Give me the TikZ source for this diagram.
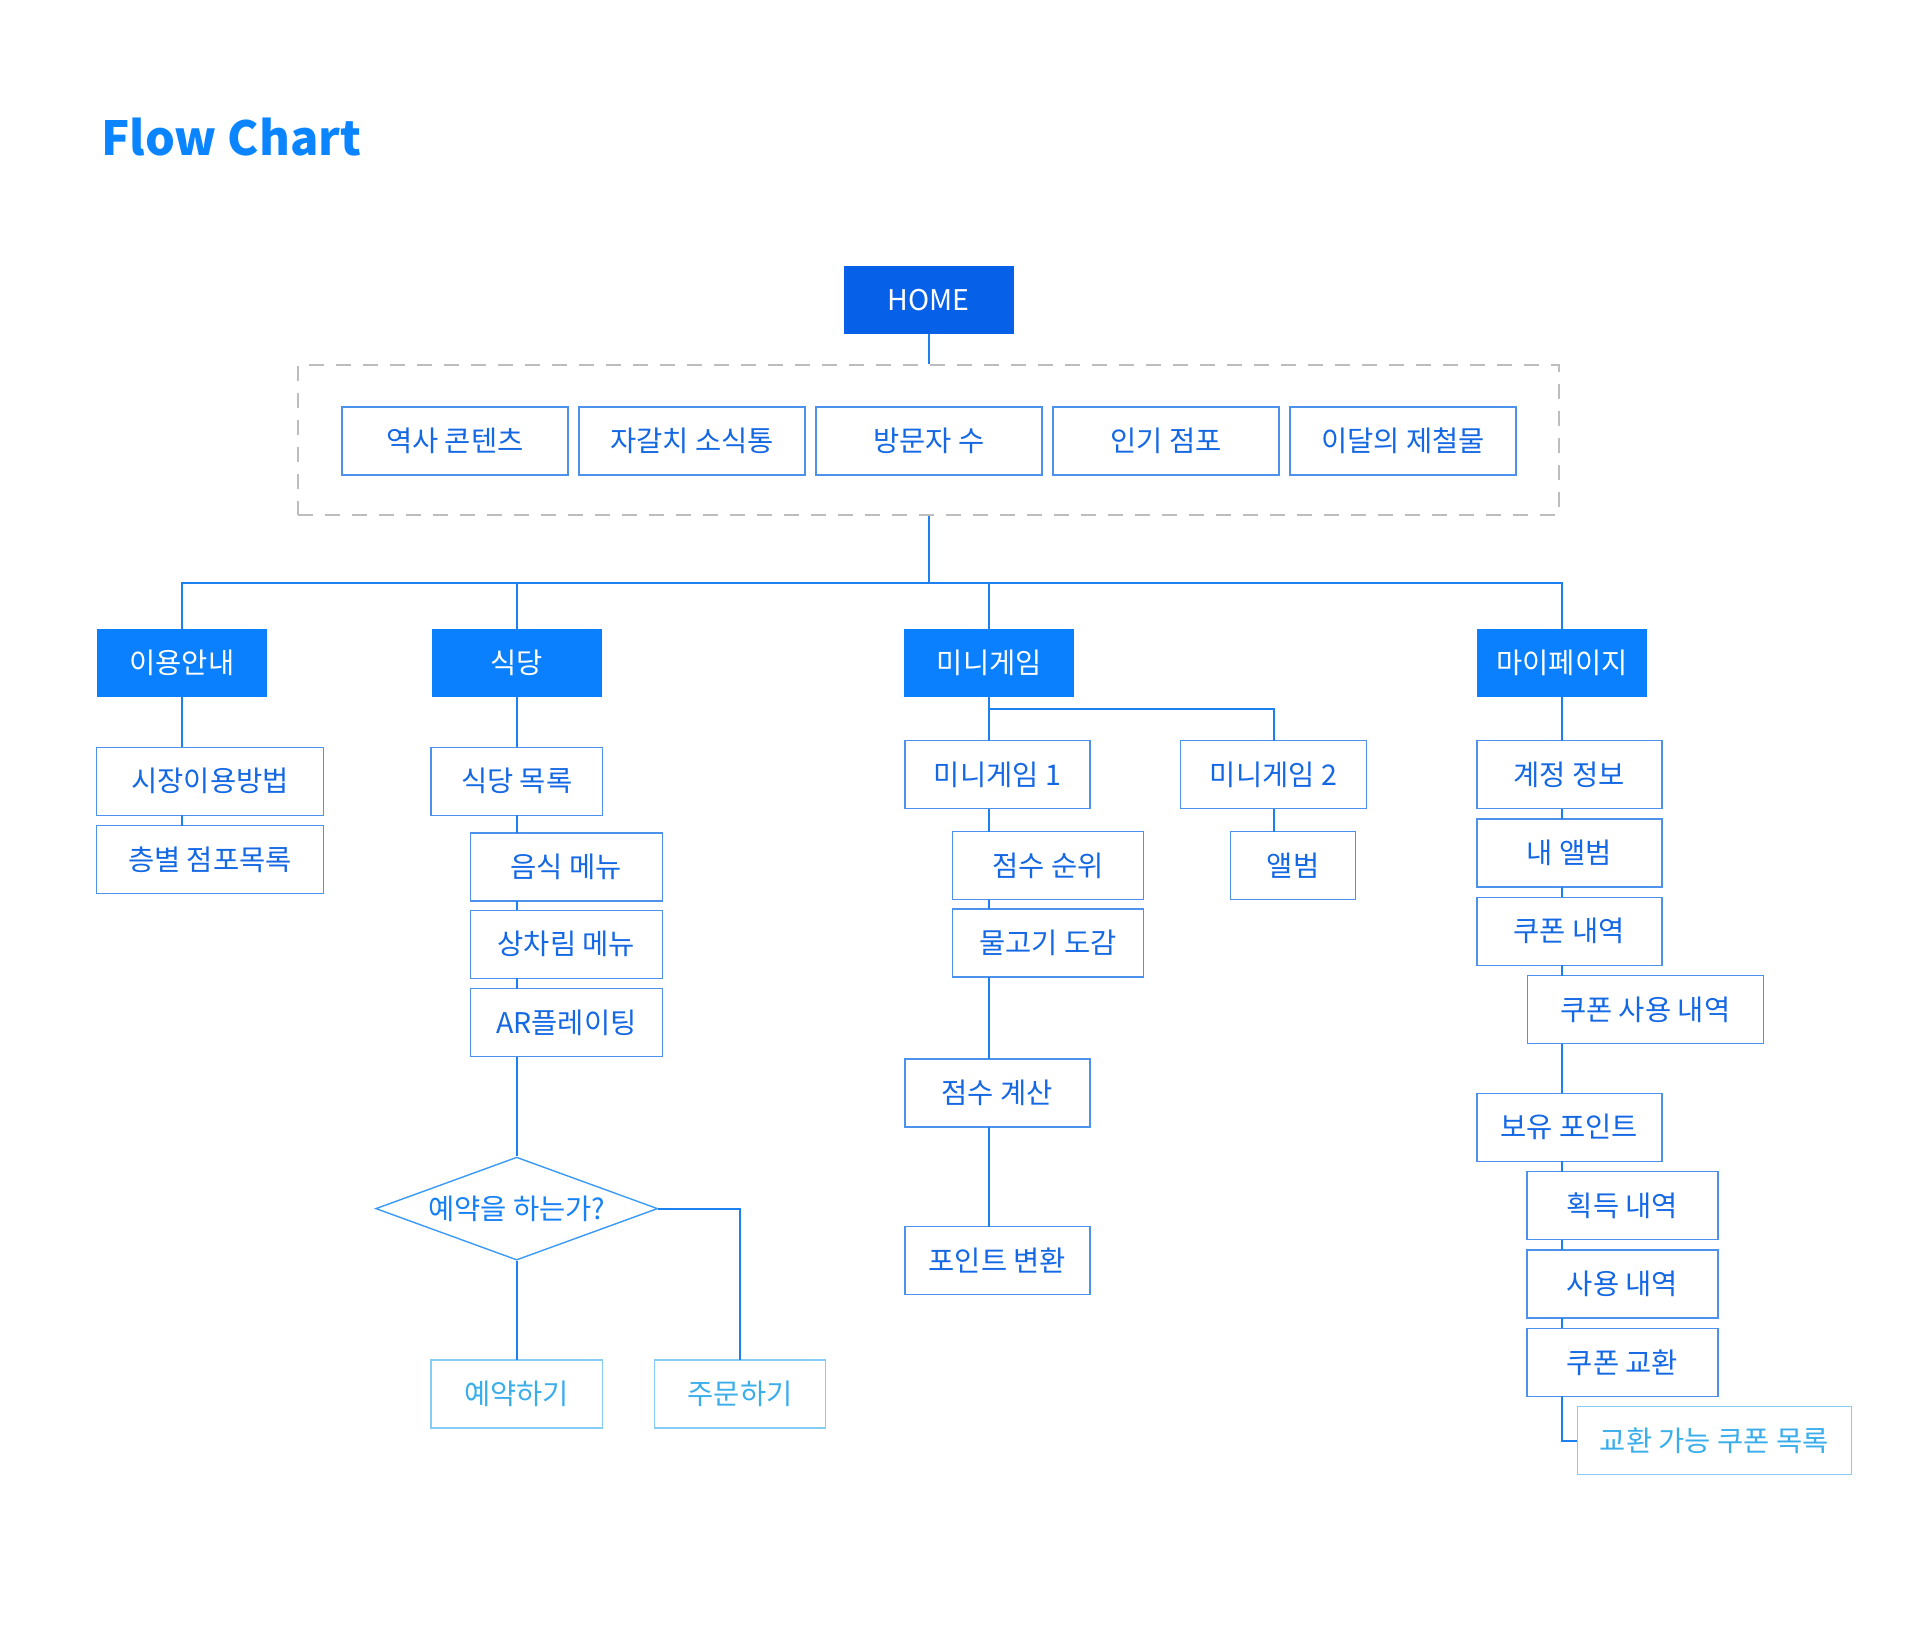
\documentclass[tikz,border=0pt]{standalone}
\usepackage{fontspec}
\setmainfont{Noto Sans CJK KR}
\usetikzlibrary{shapes.geometric,chains,positioning}
\definecolor{titleblue}{HTML}{0A84FF}
\definecolor{homeblue}{HTML}{0660E8}
\definecolor{catblue}{HTML}{0A80FF}
\definecolor{linkblue}{HTML}{1C80F0}
\definecolor{boxline}{HTML}{4C92EC}
\definecolor{boxtext}{HTML}{1468E4}
\definecolor{lightline}{HTML}{86CCF5}
\definecolor{lighttext}{HTML}{3AAEEB}
\definecolor{askline}{HTML}{3A9AF5}
\definecolor{asktext}{HTML}{1680F5}
\definecolor{dashgray}{HTML}{BDBDBD}

\begin{document}
\begin{tikzpicture}[x=1pt, y=-1pt, node distance=11pt, start chain,
    box/.style={rectangle, draw=boxline, fill=white, text=boxtext, line width=1.4pt, inner sep=0pt, outer sep=0pt, minimum height=68pt, font=\fontsize{28.5}{34}\selectfont},
    cat/.style={box, draw=none, fill=catblue, text=white, minimum width=170pt},
    home/.style={cat, fill=homeblue},
    faint/.style={box, draw=lightline, text=lighttext},
    ask/.style={diamond, aspect=2.74, draw=askline, fill=white, text=asktext, line width=1.4pt, inner sep=0pt, minimum width=282pt, minimum height=103pt, font=\fontsize{28.5}{34}\selectfont},
    group/.style={draw=dashgray, dash pattern=on 15pt off 12pt, line width=2pt, minimum width=1261pt, minimum height=150pt},
    link/.style={draw=linkblue, line width=2pt}]
        \useasboundingbox (0,0) rectangle (1920,1630);
        % Title
        \node[anchor=base west, text=titleblue, font=\fontsize{47}{56}\selectfont\bfseries] (title) at (98,155) {Flow Chart};
        % Nodes
        \node[home] (home) at (928.8,300) {HOME};
        \node[group] (group) at (928.2,440.2) {};
        \node[box,minimum width=226pt,on chain] (history) at (454.9,440.8) {역사 콘텐츠};
        \node[box,minimum width=226pt,on chain] (news) {자갈치 소식통};
        \node[box,minimum width=226pt,on chain] (visits) {방문자 수};
        \node[box,minimum width=226pt,on chain] (popular) {인기 점포};
        \node[box,minimum width=226pt,on chain] (season) {이달의 제철물};

        \node[cat] (guide) at (181.8,662.5) {이용안내};
        \node[cat] (shop) at (516.7,662.5) {식당};
        \node[cat] (mini) at (989.4,662.5) {미니게임};
        \node[cat] (mypage) at (1561.9,662.5) {마이페이지};

        % 이용안내
        \node[box,minimum width=226.6pt] (howto) at (210,781.3) {시장이용방법};
        \node[box,minimum width=226.6pt] (floors) at (210,859.6) {층별 점포목록};

        % 식당
        \node[box,minimum width=171.5pt] (shoplist) at (516.7,781.3) {식당 목록};
        \node[box,minimum width=192.3pt] (food) at (566.4,867) {음식 메뉴};
        \node[box,minimum width=192.3pt] (table) at (566.4,944.2) {상차림 메뉴};
        \node[box,minimum width=192.3pt] (plating) at (566.4,1022.5) {AR플레이팅};
        \node[ask] (reserveq) at (516.7,1208.6) {예약을 하는가?};
        \node[faint,minimum width=171.5pt] (reserve) at (516.7,1394) {예약하기};
        \node[faint,minimum width=171.5pt] (order) at (740,1394) {주문하기};

        % 미니게임
        \node[box,minimum width=185pt] (game1) at (997.4,774.5) {미니게임 1};
        \node[box,minimum width=186pt] (game2) at (1273.5,774.5) {미니게임 2};
        \node[box,minimum width=191pt] (rank) at (1048.2,865.7) {점수 순위};
        \node[box,minimum width=191pt] (fish) at (1048.2,943) {물고기 도감};
        \node[box,minimum width=125pt] (album) at (1293,865.7) {앨범};
        \node[box,minimum width=185pt] (score) at (997.4,1092.9) {점수 계산};
        \node[box,minimum width=185pt] (convert) at (997.4,1260.6) {포인트 변환};

        % 마이페이지
        \node[box,minimum width=185pt] (account) at (1569.3,774.5) {계정 정보};
        \node[box,minimum width=185pt] (myalbum) at (1569.3,852.9) {내 앨범};
        \node[box,minimum width=185pt] (coupons) at (1569.3,931.3) {쿠폰 내역};
        \node[box,minimum width=236pt] (couponuse) at (1645.2,1009.6) {쿠폰 사용 내역};
        \node[box,minimum width=185pt] (points) at (1569.3,1127.2) {보유 포인트};
        \node[box,minimum width=191pt] (earned) at (1622.5,1205.6) {획득 내역};
        \node[box,minimum width=191pt] (spent) at (1622.5,1283.9) {사용 내역};
        \node[box,minimum width=191pt] (swap) at (1622.5,1362.3) {쿠폰 교환};
        \node[faint,minimum width=274pt] (swaplist) at (1714.3,1440.7) {교환 가능 쿠폰 목록};

        % Edges
        \coordinate (bus) at (928.8,582.9);
        \draw[link] (home.south) -- (home.south |- group.north);
        \draw[link] (group.south -| home) -- (bus);
        \draw[link] (guide.north) |- (bus) -| (mypage.north);
        \draw[link] (shop.north) -- (shop.north |- bus);
        \draw[link] (mini.north) -- (mini.north |- bus);

        \draw[link] (guide.south) -- (guide.south |- howto.north);
        \draw[link] (howto.south -| guide) -- (floors.north -| guide);

        \draw[link] (shop.south) -- (shoplist.north);
        \draw[link] (shoplist.south) -- (food.north -| shop);
        \draw[link] (food.south -| shop) -- (table.north -| shop);
        \draw[link] (table.south -| shop) -- (plating.north -| shop);
        \draw[link] (plating.south -| shop) -- (reserveq.north);
        \draw[link] (reserveq.south) -- (reserve.north);
        \draw[link] (reserveq.east) -| (order.north);

        \draw[link] (mini.south) -- (game1.north -| mini);
        \draw[link] (mini.south) |- ++(0,12.5) -| (game2.north);
        \draw[link] (game2.south) -- (album.north -| game2);
        \draw[link] (game1.south -| mini) -- (rank.north -| mini);
        \draw[link] (rank.south -| mini) -- (fish.north -| mini);
        \draw[link] (fish.south -| mini) -- (score.north -| mini);
        \draw[link] (score.south -| mini) -- (convert.north -| mini);

        \draw[link] (mypage.south) -- (account.north -| mypage);
        \draw[link] (account.south -| mypage) -- (myalbum.north -| mypage);
        \draw[link] (myalbum.south -| mypage) -- (coupons.north -| mypage);
        \draw[link] (coupons.south -| mypage) -- (couponuse.north -| mypage);
        \draw[link] (couponuse.south -| mypage) -- (points.north -| mypage);
        \draw[link] (points.south -| mypage) -- (earned.north -| mypage);
        \draw[link] (earned.south -| mypage) -- (spent.north -| mypage);
        \draw[link] (spent.south -| mypage) -- (swap.north -| mypage);
        \draw[link] (swap.south -| mypage) |- (swaplist.west);
    \end{tikzpicture}
\end{document}
